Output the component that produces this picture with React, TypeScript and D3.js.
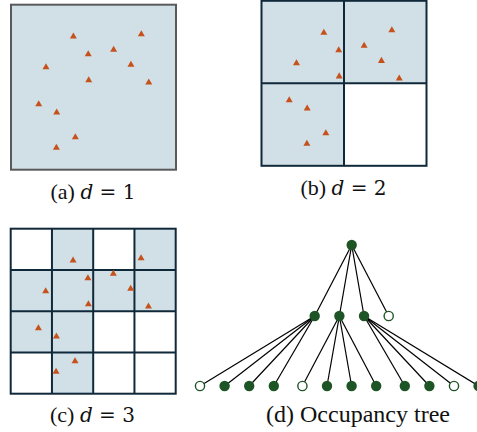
import React from "react";
import * as d3 from "d3";

// Sample points inside the unit square (0–100 in both axes, y measured from top)
const pointX = [37.8, 79.0, 46.8, 62.2, 21.2, 72.7, 47.1, 83.5, 16.8, 27.7, 39.0, 27.5];
const pointY = [19.0, 17.6, 29.7, 27.0, 37.6, 36.1, 45.5, 46.8, 60.0, 65.0, 80.0, 86.4];

// Subdivision depth per panel and panel captions
const depths = [1, 2, 3];
const panelLetters = ["a", "b", "c"];
const treeCaption = "(d) Occupancy tree";

const W = 477;
const H = 432;
const SIDE = 165;

const FILL = "#d1dfe6";
const GRID = "#10293a";
const POINT = "#c5521b";
const NODE = "#1d5526";
const SERIF = "Liberation Serif, Tinos, Times New Roman, Times, serif";
const MATH = "DejaVu Serif, serif";

// Panel origins and caption anchors
const panels = [
  { x: 11, y: 4.7, border: "#5a5a5a", cx: 93, cy: 199 },
  { x: 261.5, y: 0.8, border: GRID, cx: 343.5, cy: 194.5 },
  { x: 10.7, y: 228.7, border: GRID, cx: 92.5, cy: 421.5 },
];

const pts = pointX.map((x, i) => ({ x, y: pointY[i] }));

// Occupied cells at a given depth: grid of n = 2^(depth-1) per side
function occupancy(depth: number) {
  const n = Math.pow(2, depth - 1);
  const occ: boolean[][] = Array.from({ length: n }, () => Array(n).fill(false));
  pts.forEach((p) => {
    const c = Math.min(n - 1, Math.floor((p.x / 100) * n));
    const r = Math.min(n - 1, Math.floor((p.y / 100) * n));
    occ[r][c] = true;
  });
  return occ;
}

const tri = d3.symbol().type(d3.symbolTriangle).size(21)()!;

function Panel({ idx }: { idx: number }) {
  const p = panels[idx];
  const depth = depths[idx];
  const n = Math.pow(2, depth - 1);
  const sx = d3.scaleLinear().domain([0, 100]).range([p.x, p.x + SIDE]);
  const sy = d3.scaleLinear().domain([0, 100]).range([p.y, p.y + SIDE]);
  const occ = occupancy(depth);
  const cells: { r: number; c: number; o: boolean }[] = [];
  for (let r = 0; r < n; r++) for (let c = 0; c < n; c++) cells.push({ r, c, o: occ[r][c] });
  const step = 100 / n;
  return (
    <g>
      {cells.map((cl) => (
        <rect
          key={`${cl.r}-${cl.c}`}
          x={sx(cl.c * step)}
          y={sy(cl.r * step)}
          width={sx(step) - sx(0)}
          height={sy(step) - sy(0)}
          fill={cl.o ? FILL : "#ffffff"}
        />
      ))}
      {d3.range(1, n).map((k) => (
        <g key={k}>
          <line x1={sx(k * step)} x2={sx(k * step)} y1={sy(0)} y2={sy(100)} stroke={p.border} strokeWidth={2} />
          <line y1={sy(k * step)} y2={sy(k * step)} x1={sx(0)} x2={sx(100)} stroke={p.border} strokeWidth={2} />
        </g>
      ))}
      <rect x={sx(0)} y={sy(0)} width={SIDE} height={SIDE} fill="none" stroke={p.border} strokeWidth={2} />
      {pts.map((pt, i) => (
        <path key={i} d={tri} transform={`translate(${sx(pt.x)},${sy(pt.y) + 0.5})`} fill={POINT} />
      ))}
      <text x={p.cx} y={p.cy} textAnchor="middle" fontFamily={SERIF} fontSize={22} fill="#111">
        ({panelLetters[idx]}){" "}
        <tspan fontStyle="italic" fontFamily={MATH} fontSize={20}>d</tspan>
        <tspan fontFamily={MATH} fontSize={20}> = {depth}</tspan>
      </text>
    </g>
  );
}

// Occupancy tree: root -> quadrants (depth 2) -> cells (depth 3) of occupied quadrants
function Tree() {
  const occ2 = occupancy(2);
  const occ3 = occupancy(3);
  const quadOrder = [
    [0, 0],
    [0, 1],
    [1, 0],
    [1, 1],
  ]; // [row, col]
  const level1 = quadOrder.map(([r, c]) => ({ r, c, o: occ2[r][c] }));
  const level2: { parent: number; o: boolean }[] = [];
  level1.forEach((q, qi) => {
    if (!q.o) return;
    quadOrder.forEach(([dr, dc]) => {
      level2.push({ parent: qi, o: occ3[q.r * 2 + dr][q.c * 2 + dc] });
    });
  });

  const rootX = 351.7;
  const y0 = 245;
  const y1 = 316;
  const y2 = 386;
  const x1 = d3.scalePoint<number>().domain(d3.range(4)).range([314.7, 388.7]);
  const x2 = (i: number) => 200 + i * 24.6 + Math.floor(i / 4) * 4;
  const R = 5.2;

  return (
    <g>
      {level1.map((q, i) => (
        <line key={`e1-${i}`} x1={rootX} y1={y0} x2={x1(i)!} y2={y1} stroke="#000" strokeWidth={1.2} />
      ))}
      {level2.map((c, i) => (
        <line key={`e2-${i}`} x1={x1(c.parent)!} y1={y1} x2={x2(i)} y2={y2} stroke="#000" strokeWidth={1.2} />
      ))}
      <circle cx={rootX} cy={y0} r={R} fill={NODE} />
      {level1.map((q, i) => (
        <circle key={`n1-${i}`} cx={x1(i)!} cy={y1} r={q.o ? R : R - 0.6} fill={q.o ? NODE : "#fff"} stroke={NODE} strokeWidth={q.o ? 0 : 1.4} />
      ))}
      {level2.map((c, i) => (
        <circle key={`n2-${i}`} cx={x2(i)} cy={y2} r={c.o ? R : R - 0.6} fill={c.o ? NODE : "#fff"} stroke={NODE} strokeWidth={c.o ? 0 : 1.4} />
      ))}
      <text x={358} y={421.5} textAnchor="middle" fontFamily={SERIF} fontSize={24} fill="#111">
        {treeCaption}
      </text>
    </g>
  );
}

export default function App() {
  return (
    <svg
      width={W}
      height={H}
      viewBox={`0 0 ${W} ${H}`}
      style={{ position: "absolute", left: 0, top: 0, background: "#fff" }}
    >
      <rect width={W} height={H} fill="#fff" />
      {depths.map((_, i) => (
        <Panel key={i} idx={i} />
      ))}
      <Tree />
    </svg>
  );
}
